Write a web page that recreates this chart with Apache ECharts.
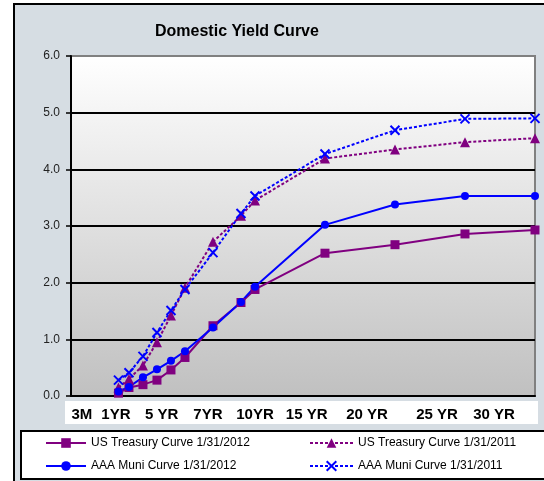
<!DOCTYPE html>
<html>
<head>
<meta charset="utf-8">
<script src="https://cdn.jsdelivr.net/npm/echarts@6/dist/echarts.min.js"></script>
<style>
    html, body { margin: 0; padding: 0; width: 544px; height: 481px; overflow: hidden; background: #fff; }
    #frame { position: absolute; left: 13px; top: 3px; width: 560px; height: 500px; background: #d6dde3; border: 2px solid #000; }
    #band { position: absolute; left: 65px; top: 401px; width: 473px; height: 23px; background: #fff; }
    #legbox { position: absolute; left: 20px; top: 430px; width: 560px; height: 46px; background: #fff; border: 2px solid #000; }
    #chart { position: absolute; left: 0; top: 0; width: 544px; height: 481px; }
</style>
</head>
<body>
<div id="frame"></div>
<div id="band"></div>
<div id="legbox"></div>
<div id="chart"></div>
<script>
    // maturities in years
    const maturities = [0.25, 1, 2, 3, 4, 5, 7, 9, 10, 15, 20, 25, 30];

    const tsy2012  = [0.05, 0.15, 0.20, 0.28, 0.46, 0.68, 1.24, 1.65, 1.88, 2.52, 2.67, 2.86, 2.93];
    const tsy2011  = [0.15, 0.30, 0.54, 0.95, 1.42, 1.91, 2.72, 3.18, 3.45, 4.19, 4.35, 4.48, 4.55];
    const muni2012 = [0.08, 0.16, 0.33, 0.47, 0.62, 0.79, 1.21, 1.66, 1.93, 3.02, 3.38, 3.53, 3.53];
    const muni2011 = [0.28, 0.41, 0.70, 1.12, 1.51, 1.88, 2.53, 3.22, 3.53, 4.27, 4.69, 4.89, 4.90];

    // x labels sit where the original text boxes were, not on the points
    const tickLabels = ['3M', '1YR', '5 YR', '7YR', '10YR', '15 YR', '20 YR', '25 YR', '30 YR'];
    const tickAt = [-2.36, 0.07, 3.34, 6.64, 10, 13.69, 18, 23, 27.07];

    const NAMES = [
        'US Treasury Curve 1/31/2012',
        'US Treasury Curve 1/31/2011',
        'AAA Muni Curve 1/31/2012',
        'AAA Muni Curve 1/31/2011'
    ];
    const PURPLE = '#800080';
    const BLUE = '#0000ff';

    function pairs(vals) {
        return maturities.map((m, i) => [m, vals[i]]);
    }

    function makeSeries(name, vals, color, symbol, size, dashed) {
        return {
            name: name,
            type: 'line',
            data: pairs(vals),
            symbol: symbol,
            symbolSize: size,
            showSymbol: true,
            lineStyle: { color: color, width: 2, type: dashed ? [3, 2] : 'solid' },
            itemStyle: { color: color, borderColor: color, borderWidth: symbol.startsWith('path') ? 2 : 0 },
            emphasis: { disabled: true }
        };
    }

    const myChart = echarts.init(document.getElementById('chart'));

    const option = {
        animation: false,
        textStyle: { fontFamily: '"Liberation Sans", Arial, sans-serif' },
        title: {
            text: 'Domestic Yield Curve',
            left: 155,
            top: 24,
            padding: 0,
            textStyle: { fontSize: 16, fontWeight: 'bold', color: '#000' }
        },
        legend: [
            {
                data: [NAMES[0], NAMES[2]],
                orient: 'vertical',
                left: 45, top: 437,
                itemWidth: 40, itemHeight: 12, itemGap: 11,
                padding: 0,
                textStyle: { fontSize: 12, color: '#000' }
            },
            {
                data: [NAMES[1], NAMES[3]],
                orient: 'vertical',
                left: 309, top: 437,
                itemWidth: 43, itemHeight: 12, itemGap: 11,
                padding: 0,
                textStyle: { fontSize: 12, color: '#000' }
            }
        ],
        grid: {
            left: 71, right: 9, top: 56, bottom: 85,
            show: true,
            borderColor: '#808080',
            borderWidth: 2,
            backgroundColor: new echarts.graphic.LinearGradient(0, 0, 0, 1, [
                { offset: 0, color: '#ffffff' },
                { offset: 1, color: '#c0c0c0' }
            ])
        },
        xAxis: {
            type: 'value',
            min: -3.14,
            max: 30,
            axisLine: { show: true, onZero: false, lineStyle: { color: '#000', width: 2 } },
            axisTick: { show: false },
            splitLine: { show: false },
            axisLabel: {
                customValues: tickAt,
                formatter: v => {
                    const i = tickAt.findIndex(t => Math.abs(t - v) < 0.01);
                    return i >= 0 ? tickLabels[i] : '';
                },
                fontSize: 15,
                fontWeight: 'bold',
                color: '#000',
                margin: 11
            }
        },
        yAxis: {
            type: 'value',
            min: 0,
            max: 6,
            interval: 1,
            axisLine: { show: true, onZero: false, lineStyle: { color: '#000', width: 2 } },
            axisTick: { show: true, length: 5, lineStyle: { color: '#000', width: 1.5 } },
            splitLine: { show: true, showMaxLine: false, lineStyle: { color: '#000', width: 2 } },
            axisLabel: {
                formatter: v => v.toFixed(1),
                fontSize: 12,
                color: '#222',
                margin: 11
            }
        },
        series: [
            makeSeries(NAMES[0], tsy2012, PURPLE, 'rect', 9, false),
            makeSeries(NAMES[1], tsy2011, PURPLE, 'triangle', 10, true),
            makeSeries(NAMES[2], muni2012, BLUE, 'circle', 8, false),
            makeSeries(NAMES[3], muni2011, BLUE, 'path://M0,0L10,10M10,0L0,10', 9, true)
        ]
    };

    myChart.setOption(option);
</script>
</body>
</html>
